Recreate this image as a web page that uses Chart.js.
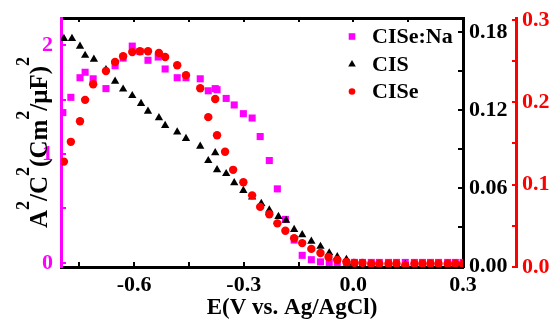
<!DOCTYPE html>
<html>
<head>
<meta charset="utf-8">
<script src="https://cdn.jsdelivr.net/npm/chart.js@4/dist/chart.umd.min.js"></script>
<style>
  body { margin: 0; background: #fff; }
</style>
</head>
<body>
<canvas id="mottChart" width="560" height="323"></canvas>
<script>
// Mott-Schottky data
var naX = [-0.795, -0.773, -0.748, -0.734, -0.712, -0.677, -0.652, -0.630, -0.605, -0.584, -0.562, -0.534, -0.515, -0.482, -0.458, -0.419, -0.397, -0.378, -0.373, -0.348, -0.326, -0.301, -0.277, -0.255, -0.230, -0.208, -0.186, -0.162, -0.140, -0.115, -0.090, -0.066, -0.044, -0.019, 0.003, 0.025, 0.049, 0.071, 0.096, 0.118, 0.142, 0.167, 0.189, 0.211, 0.233, 0.258, 0.279, 0.300];
var naY = [1.38, 1.52, 1.70, 1.75, 1.69, 1.60, 1.81, 1.88, 1.99, 1.94, 1.86, 1.89, 1.78, 1.70, 1.70, 1.69, 1.58, 1.60, 1.59, 1.51, 1.45, 1.37, 1.33, 1.16, 0.94, 0.68, 0.40, 0.21, 0.07, 0.03, 0.01, 0.005, 0.005, 0.005, 0.005, 0.005, 0.005, 0.005, 0.005, 0.005, 0.005, 0.005, 0.005, 0.005, 0.005, 0.005, 0.005, 0.005];

var cisX = [-0.792, -0.770, -0.748, -0.734, -0.710, -0.677, -0.652, -0.630, -0.605, -0.581, -0.562, -0.532, -0.515, -0.482, -0.458, -0.419, -0.397, -0.378, -0.373, -0.348, -0.326, -0.301, -0.277, -0.252, -0.230, -0.205, -0.184, -0.162, -0.140, -0.115, -0.090, -0.066, -0.044, -0.019, 0.000, 0.025, 0.049, 0.071, 0.096, 0.118, 0.142, 0.167, 0.189, 0.211, 0.233, 0.258, 0.279, 0.300];
var cisY = [0.175, 0.175, 0.169, 0.162, 0.159, 0.151, 0.142, 0.136, 0.131, 0.125, 0.119, 0.114, 0.108, 0.103, 0.098, 0.092, 0.081, 0.087, 0.074, 0.071, 0.064, 0.058, 0.053, 0.048, 0.043, 0.038, 0.035, 0.028, 0.024, 0.019, 0.015, 0.010, 0.007, 0.005, 0.002, 0.001, 0.001, 0.001, 0.001, 0.001, 0.001, 0.001, 0.001, 0.001, 0.001, 0.001, 0.001, 0.001];

var ciseX = [-0.792, -0.773, -0.748, -0.734, -0.712, -0.677, -0.652, -0.630, -0.605, -0.584, -0.562, -0.532, -0.515, -0.482, -0.458, -0.419, -0.378, -0.397, -0.373, -0.351, -0.329, -0.301, -0.277, -0.255, -0.230, -0.208, -0.186, -0.162, -0.140, -0.115, -0.090, -0.068, -0.044, -0.019, 0.003, 0.025, 0.049, 0.071, 0.096, 0.118, 0.142, 0.167, 0.189, 0.211, 0.233, 0.258, 0.279, 0.300];
var ciseY = [0.128, 0.152, 0.177, 0.203, 0.222, 0.238, 0.249, 0.256, 0.261, 0.262, 0.262, 0.260, 0.255, 0.245, 0.233, 0.217, 0.204, 0.182, 0.160, 0.140, 0.118, 0.103, 0.087, 0.073, 0.064, 0.053, 0.044, 0.035, 0.029, 0.022, 0.017, 0.012, 0.0085, 0.006, 0.005, 0.005, 0.004, 0.004, 0.004, 0.004, 0.002, 0.004, 0.004, 0.004, 0.004, 0.004, 0.004, 0.004];

var xTickValues = [-0.75, -0.6, -0.45, -0.3, -0.15, 0, 0.15, 0.3];
var xTickLabels = ['', '-0.6', '', '-0.3', '', '0.0', '', '0.3'];
var naTickValues = [0, 0.5, 1, 1.5, 2];
var naTickLabels = ['0', '', '1', '', '2'];
var cisTickValues = [0, 0.03, 0.06, 0.09, 0.12, 0.15, 0.18];
var cisTickLabels = ['0.00', '', '0.06', '', '0.12', '', '0.18'];
var ciseTickValues = [0, 0.05, 0.1, 0.15, 0.2, 0.25, 0.3];
var ciseTickLabels = ['0.0', '', '0.1', '', '0.2', '', '0.3'];

var seriesNames = ['CISe:Na', 'CIS', 'CISe'];
var xTitle = 'E(V vs. Ag/AgCl)';

var MAGENTA = '#ff00ff', RED = '#ff0000', BLACK = '#000000';
var tickFont = { family: '"Liberation Serif", "Times New Roman", serif', size: 22, weight: 'bold' };

function toPoints(xs, ys) {
	return xs.map(function (x, i) { return { x: x, y: ys[i] }; });
}
function fixedTicks(values) {
	return function (scale) {
		scale.ticks = values.map(function (v) { return { value: v }; });
	};
}
function tickLabels(labels) {
	return function (value, index) { return labels[index]; };
}
// fixed box size, and no extra room for the end labels
function fixSize(w, h) {
	return function (scale) {
		if (w) scale.width = w;
		if (h) scale.height = h;
		scale.paddingTop = scale.paddingBottom = 0;
		scale.paddingLeft = scale.paddingRight = 0;
	};
}

// titles with superscripts + legend inside the plot
var decorations = {
	id: 'decorations',
	afterDraw: function (chart) {
		var ctx = chart.ctx, area = chart.chartArea;
		var family = '"Liberation Serif", "Times New Roman", serif';
		ctx.save();
		ctx.fillStyle = BLACK;

		// x title
		ctx.font = 'bold 23px ' + family;
		ctx.textAlign = 'center';
		ctx.textBaseline = 'middle';
		ctx.fillText(xTitle, (area.left + area.right) / 2 + 30, 308);

		// y title  A²/C²(Cm²/μF)²
		var parts = [['A', 0], ['2', 1], ['/C', 0], ['2', 1], ['(Cm', 0], ['2', 1], ['/\u03bcF)', 0], ['2', 1]];
		var base = 'bold 25px ' + family, sup = 'bold 18px ' + family;
		var total = 0;
		parts.forEach(function (p) {
			ctx.font = p[1] ? sup : base;
			total += ctx.measureText(p[0]).width;
		});
		ctx.translate(37, (area.top + area.bottom) / 2);
		ctx.rotate(-Math.PI / 2);
		ctx.textAlign = 'left';
		ctx.textBaseline = 'alphabetic';
		var pos = -total / 2;
		parts.forEach(function (p) {
			ctx.font = p[1] ? sup : base;
			ctx.fillText(p[0], pos, p[1] ? -8 : 9.5);
			pos += ctx.measureText(p[0]).width;
		});
		ctx.setTransform(1, 0, 0, 1, 0, 0);

		// legend
		var colors = [MAGENTA, BLACK, RED];
		ctx.font = 'bold 22px ' + family;
		ctx.textAlign = 'left';
		ctx.textBaseline = 'middle';
		for (var i = 0; i < seriesNames.length; i++) {
			var y = 36.5 + i * 27.5, x = 352;
			ctx.fillStyle = colors[i];
			ctx.beginPath();
			if (i == 0) {
				ctx.rect(x - 3.3, y - 3.3, 6.6, 6.6);
			} else if (i == 1) {
				ctx.moveTo(x, y - 4);
				ctx.lineTo(x + 3.8, y + 2.6);
				ctx.lineTo(x - 3.8, y + 2.6);
				ctx.closePath();
			} else {
				ctx.arc(x, y, 3.3, 0, Math.PI * 2);
			}
			ctx.fill();
			ctx.fillStyle = BLACK;
			ctx.fillText(seriesNames[i], 372, y + 1);
		}
		ctx.restore();
	}
};

var context = document.getElementById('mottChart').getContext('2d');
var myChart = new Chart(context, {
	type: 'scatter',
	data: {
		datasets: [
			{
				label: seriesNames[0],
				data: toPoints(naX, naY),
				yAxisID: 'y',
				pointStyle: 'rect',
				pointRadius: 5,
				pointBorderWidth: 0,
				backgroundColor: MAGENTA,
				order: 3
			},
			{
				label: seriesNames[1],
				data: toPoints(cisX, cisY),
				yAxisID: 'y1',
				pointStyle: 'triangle',
				pointRadius: 4.8,
				pointBorderWidth: 0,
				backgroundColor: BLACK,
				order: 2
			},
			{
				label: seriesNames[2],
				data: toPoints(ciseX, ciseY),
				yAxisID: 'y2',
				pointStyle: 'circle',
				pointRadius: 4.2,
				pointBorderWidth: 0,
				backgroundColor: RED,
				order: 1
			}
		]
	},
	options: {
		responsive: false,
		animation: false,
		devicePixelRatio: 1,
		layout: { padding: 0 },
		plugins: {
			legend: { display: false },
			tooltip: { enabled: false }
		},
		scales: {
			x: {
				type: 'linear',
				position: 'bottom',
				min: -0.8,
				max: 0.3,
				afterBuildTicks: fixedTicks(xTickValues),
				afterFit: fixSize(0, 56),
				ticks: { callback: tickLabels(xTickLabels), font: tickFont, color: BLACK, padding: 10, maxRotation: 0, autoSkip: false },
				grid: { drawOnChartArea: false, color: BLACK, lineWidth: 2, tickLength: -5 },
				border: { display: true, color: BLACK, width: 3 }
			},
			xTop: {
				type: 'linear',
				position: 'top',
				min: -0.8,
				max: 0.3,
				afterBuildTicks: fixedTicks(xTickValues),
				afterFit: fixSize(0, 18),
				ticks: { display: false },
				grid: { drawOnChartArea: false, color: BLACK, lineWidth: 2, tickLength: -4 },
				border: { display: true, color: BLACK, width: 3 }
			},
			y: {
				type: 'linear',
				position: 'left',
				min: -0.037,
				max: 2.248,
				afterBuildTicks: fixedTicks(naTickValues),
				afterFit: fixSize(61, 0),
				ticks: { callback: tickLabels(naTickLabels), font: tickFont, color: MAGENTA, padding: 13, autoSkip: false },
				grid: { drawOnChartArea: false, color: MAGENTA, lineWidth: 2, tickLength: -5 },
				border: { display: true, color: MAGENTA, width: 3 }
			},
			y1: {
				type: 'linear',
				position: 'right',
				weight: 0,
				min: -0.0008,
				max: 0.1908,
				afterBuildTicks: fixedTicks(cisTickValues),
				afterFit: fixSize(53, 0),
				ticks: { callback: tickLabels(cisTickLabels), font: tickFont, color: BLACK, padding: 11, autoSkip: false },
				grid: { drawOnChartArea: false, color: BLACK, lineWidth: 2, tickLength: -5 },
				border: { display: true, color: BLACK, width: 3 }
			},
			y2: {
				type: 'linear',
				position: 'right',
				weight: 1,
				min: 0,
				max: 0.3024,
				afterBuildTicks: fixedTicks(ciseTickValues),
				afterFit: fixSize(44, 0),
				ticks: { callback: tickLabels(ciseTickLabels), font: tickFont, color: RED, padding: 10, autoSkip: false },
				grid: { drawOnChartArea: false, color: RED, lineWidth: 2, tickLength: -4 },
				border: { display: true, color: RED, width: 3 }
			}
		}
	},
	plugins: [decorations]
});
</script>
</body>
</html>
